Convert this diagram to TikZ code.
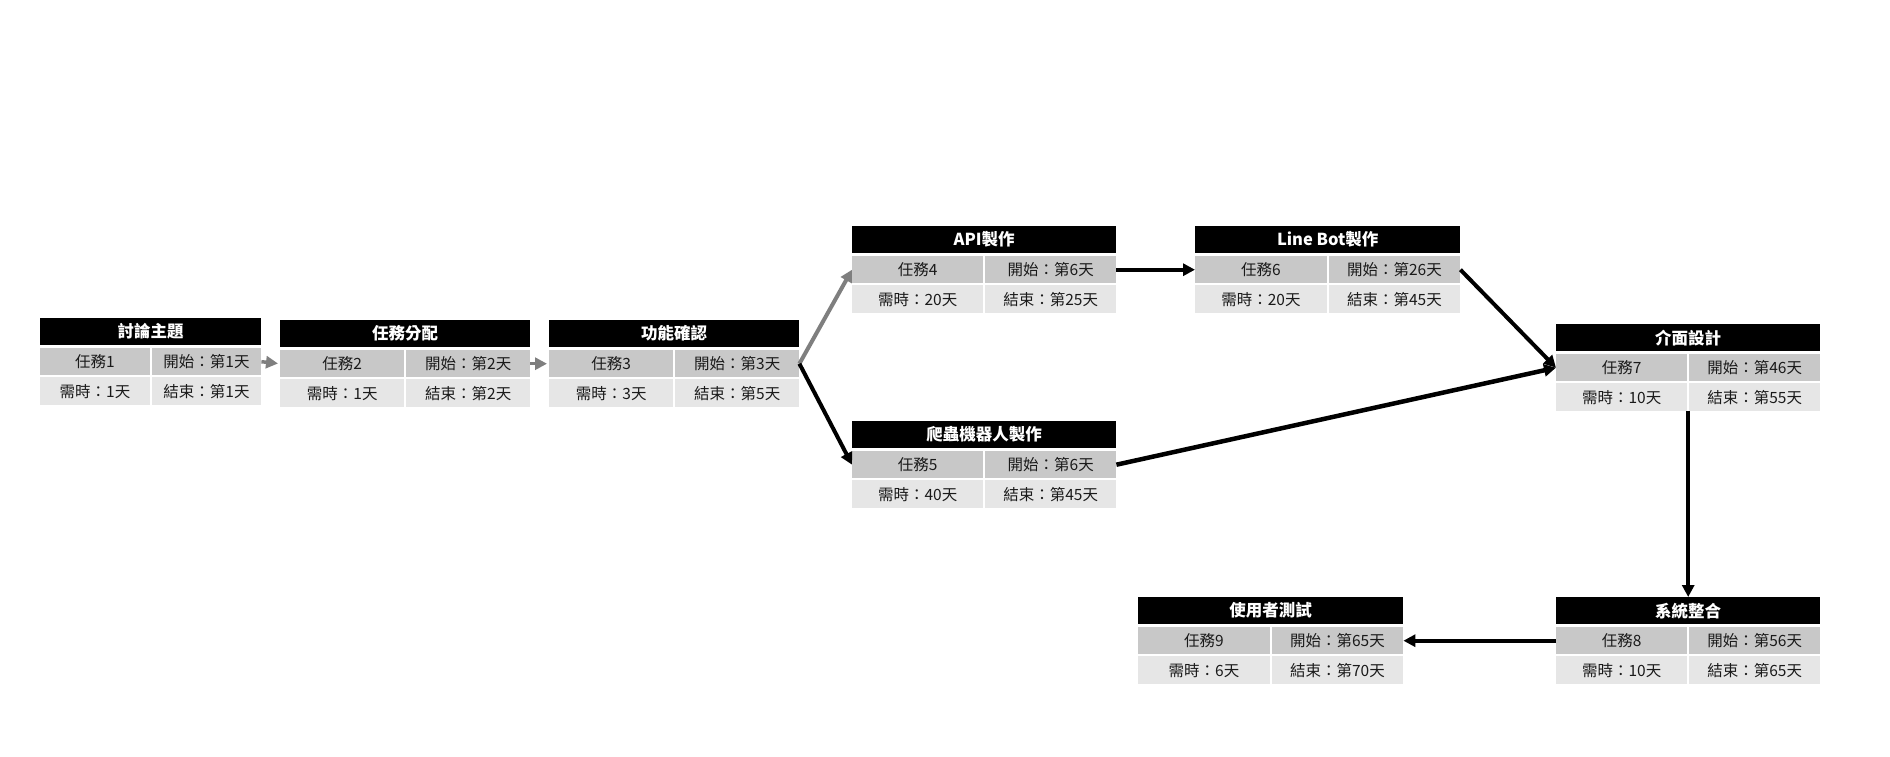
\documentclass[tikz,border=0pt]{standalone}
\usepackage{fontspec}
\setmainfont{Noto Sans CJK TC}
\usetikzlibrary{arrows.meta}
\definecolor{rowA}{HTML}{C8C8C8}
\definecolor{rowB}{HTML}{E6E6E6}
\definecolor{arrgray}{HTML}{7F7F7F}
\definecolor{celltext}{HTML}{1A1A1A}
\tikzset{
  hdr/.style={fill=black,text=white,inner sep=0pt,anchor=north west,
    font=\fontsize{16.5}{18}\selectfont\bfseries},
  cellA/.style={fill=rowA,text=celltext,inner sep=0pt,anchor=north west,
    font=\fontsize{15.5}{17}\selectfont},
  cellB/.style={cellA,fill=rowB},
  conn/.style={draw=black,line width=4pt,-{Triangle[length=12pt,width=12pt]}},
  conngray/.style={conn,draw=arrgray}
}
% #1 name, #2 left, #3 right, #4 top, #5 title, #6..#9 cells
\newcommand{\taskbox}[9]{%
  \pgfmathsetmacro\tbw{#3-#2}%
  \pgfmathsetmacro\tbm{(#2+#3)/2}%
  \pgfmathsetmacro\tbcw{\tbm-#2-1}%
  \pgfmathsetmacro\tbcx{\tbm+1}%
  \pgfmathsetmacro\tbra{#4+30}%
  \pgfmathsetmacro\tbrb{#4+59}%
  \node[hdr,minimum width=\tbw pt,minimum height=27pt] (#1h) at (#2,#4) {#5};
  \node[cellA,minimum width=\tbcw pt,minimum height=27pt] (#1a) at (#2,\tbra) {#6};
  \node[cellA,minimum width=\tbcw pt,minimum height=27pt] (#1b) at (\tbcx,\tbra) {#7};
  \node[cellB,minimum width=\tbcw pt,minimum height=28pt] (#1c) at (#2,\tbrb) {#8};
  \node[cellB,minimum width=\tbcw pt,minimum height=28pt] (#1d) at (\tbcx,\tbrb) {#9};
}
\begin{document}
\begin{tikzpicture}[x=1pt,y=-1pt]
\useasboundingbox (0,0) rectangle (1890,756);
\fill[white] (0,0) rectangle (1890,756);
\taskbox{t1}{40}{261}{318}{討論主題}{任務1}{開始：第1天}{需時：1天}{結束：第1天}
\taskbox{t2}{280}{530}{320}{任務分配}{任務2}{開始：第2天}{需時：1天}{結束：第2天}
\taskbox{t3}{549}{799}{320}{功能確認}{任務3}{開始：第3天}{需時：3天}{結束：第5天}
\taskbox{t4}{852}{1116}{226}{API製作}{任務4}{開始：第6天}{需時：20天}{結束：第25天}
\taskbox{t5}{852}{1116}{421}{爬蟲機器人製作}{任務5}{開始：第6天}{需時：40天}{結束：第45天}
\taskbox{t6}{1195}{1460}{226}{Line Bot製作}{任務6}{開始：第26天}{需時：20天}{結束：第45天}
\taskbox{t7}{1556}{1820}{324}{介面設計}{任務7}{開始：第46天}{需時：10天}{結束：第55天}
\taskbox{t8}{1556}{1820}{597}{系統整合}{任務8}{開始：第56天}{需時：10天}{結束：第65天}
\taskbox{t9}{1138}{1403}{597}{使用者測試}{任務9}{開始：第65天}{需時：6天}{結束：第70天}
\draw[conngray,line width=3.5pt,shorten >=2pt] (t1b.east) -- (t2a.west);
\draw[conngray,line width=3.5pt,shorten >=2pt] (t2b.east) -- (t3a.west);
\draw[conngray] (t3b.east) -- (t4a.west);
\draw[conn] (t3b.east) -- (t5a.west);
\draw[conn] (t4b.east) -- (t6a.west);
\draw[conn] (t6b.east) -- (t7a.west);
\draw[conn,line width=4.5pt] (t5b.east) -- (t7a.west);
\draw[conn] (t7h.south |- t7d.south) -- (t8h.north);
\draw[conn] (t8a.west) -- (t9b.east);
\end{tikzpicture}
\end{document}
